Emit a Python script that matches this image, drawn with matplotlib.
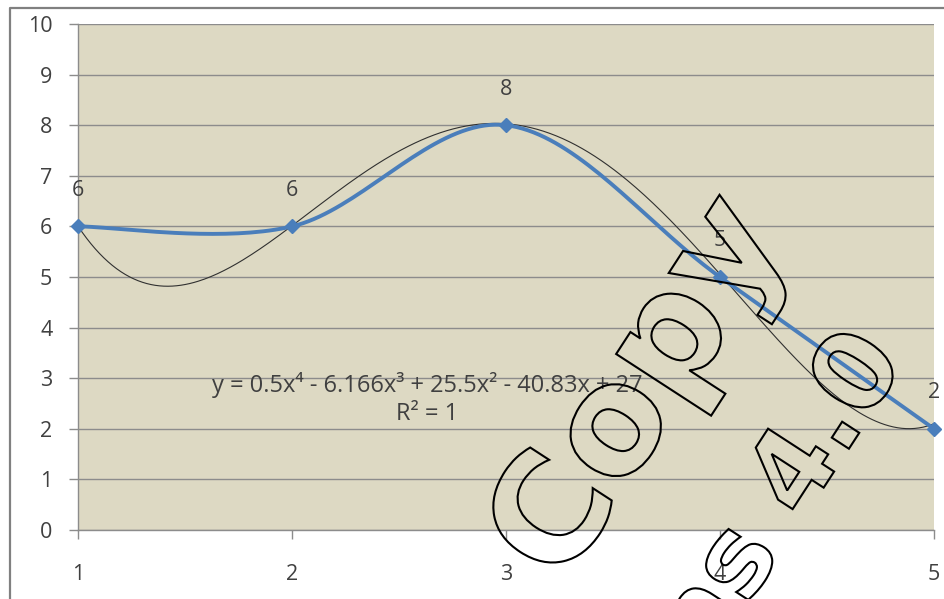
import matplotlib

matplotlib.use("Agg")
import matplotlib.pyplot as plt
import numpy as np
from matplotlib.font_manager import FontProperties
from matplotlib.lines import Line2D
from matplotlib.patches import PathPatch
from matplotlib.textpath import TextPath
from matplotlib.transforms import Affine2D, IdentityTransform

# series and trendline
x_vals = [1, 2, 3, 4, 5]
y_vals = [6, 6, 8, 5, 2]
trend_coef = [0.5, -6.166, 25.5, -40.83, 27]  # highest power first
r_squared = 1
y_ticks = list(range(0, 11))
x_ticks = [1, 2, 3, 4, 5]

W, H = 944, 599
BLUE = "#4A7EBB"
PLOT_BG = "#DDD9C3"
GRID = "#8C8C8C"
TEXT = "#404040"
FONT = ["Open Sans", "DejaVu Sans"]


def excel_smooth(xs, ys, n=40):
    # cubic Bezier segments with 1/6 tangent handles, like Excel's smoothed line
    pts = np.column_stack([xs, ys]).astype(float)
    t = np.linspace(0, 1, n)[1:, None]
    out = [pts[:1]]
    for i in range(len(pts) - 1):
        p0 = pts[max(i - 1, 0)]
        p1, p2 = pts[i], pts[i + 1]
        p3 = pts[min(i + 2, len(pts) - 1)]
        c1 = p1 + (p2 - p0) / 6
        c2 = p2 - (p3 - p1) / 6
        out.append((1 - t) ** 3 * p1 + 3 * (1 - t) ** 2 * t * c1
                   + 3 * (1 - t) * t ** 2 * c2 + t ** 3 * p2)
    out = np.vstack(out)
    return out[:, 0], out[:, 1]


def equation_text(coef):
    sup = {4: "\u2074", 3: "\u00b3", 2: "\u00b2", 1: "", 0: ""}
    deg = len(coef) - 1
    parts = []
    for i, c in enumerate(coef):
        p = deg - i
        term = f"{abs(c):g}" + ("x" if p > 0 else "") + sup[p]
        if i == 0:
            parts.append(("-" if c < 0 else "") + term)
        else:
            parts.append((" - " if c < 0 else " + ") + term)
    return "y = " + "".join(parts)


def outline_text(fig, s, suffix, origin, size, angle=57):
    # hollow rotated lettering; `origin` is where `suffix` starts (pixels, y down)
    prop = FontProperties(family="DejaVu Sans", weight="bold")
    full = TextPath((0, 0), s, size=size, prop=prop)
    tail = TextPath((0, 0), suffix, size=size, prop=prop)
    shift = full.get_extents().x1 - tail.get_extents().x1
    tr = Affine2D().translate(-shift, 0).rotate_deg(angle).translate(origin[0], H - origin[1])
    patch = PathPatch(tr.transform_path(full), facecolor="none", edgecolor="black",
                      lw=1.5, transform=IdentityTransform(), zorder=20)
    fig.add_artist(patch)


fig = plt.figure(figsize=(W / 100, H / 100), dpi=100, facecolor="white")
ax = fig.add_axes([78 / W, 69 / H, 856 / W, 506 / H])
ax.set_facecolor(PLOT_BG)

# polynomial trendline
xs = np.linspace(1, 5, 400)
ax.plot(xs, np.polyval(trend_coef, xs), color="#303030", lw=0.8, zorder=3)

# smoothed series with diamond markers
sx, sy = excel_smooth(x_vals, y_vals)
ax.plot(sx, sy, color=BLUE, lw=2.8, zorder=4, clip_on=False, solid_capstyle="round")
ax.plot(x_vals, y_vals, ls="none", marker="D", ms=7.5, color=BLUE, zorder=5, clip_on=False)
for xv, yv in zip(x_vals, y_vals):
    ax.annotate(f"{yv}", (xv, yv), xytext=(0, 26), textcoords="offset points",
                ha="center", va="center", fontsize=15.5, color=TEXT, family=FONT,
                annotation_clip=False, zorder=6)

ax.text(2.63, 2.86, equation_text(trend_coef), ha="center", va="center",
        fontsize=17, color=TEXT, family=FONT, zorder=6)
ax.text(2.63, 2.3, f"R\u00b2 = {r_squared}", ha="center", va="center",
        fontsize=17, color=TEXT, family=FONT, zorder=6)

ax.set_xlim(1, 5)
ax.set_ylim(0, 10)
ax.set_xticks(x_ticks)
ax.set_yticks(y_ticks)
ax.grid(axis="y", color=GRID, lw=1.0, zorder=1)
ax.set_axisbelow(True)
for side in ("top", "right"):
    ax.spines[side].set_visible(False)
for side in ("left", "bottom"):
    ax.spines[side].set_color(GRID)
    ax.spines[side].set_linewidth(1.0)
ax.tick_params(axis="y", length=6.5, width=1.0, color=GRID, pad=12, labelsize=15.5, labelcolor=TEXT)
ax.tick_params(axis="x", length=6.5, width=1.0, color=GRID, pad=18, labelsize=15.5, labelcolor=TEXT)
for lab in ax.get_xticklabels() + ax.get_yticklabels():
    lab.set_family(FONT)

# chart frame (left and top edges)
fig.add_artist(Line2D([10 / W, 10 / W, 1], [0, 591 / H, 591 / H], transform=fig.transFigure,
                      color="#808080", lw=1.6))

# watermark lettering
outline_text(fig, "Copy", "Copy", (562, 588), size=150)
outline_text(fig, "Commons 4.0", "4.0", (802, 521), size=108)

fig.savefig("out.png", dpi=100, facecolor="white")
